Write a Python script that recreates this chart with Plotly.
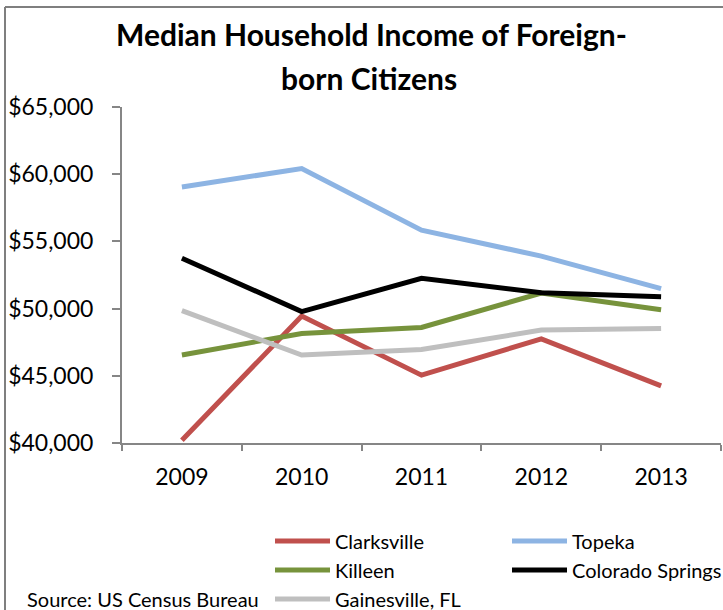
import plotly.graph_objects as go

years = ["2009", "2010", "2011", "2012", "2013"]
clarksville = [40200, 49450, 45050, 47750, 44250]
topeka = [59050, 60420, 55840, 53900, 51480]
killeen = [46550, 48150, 48600, 51150, 49920]
colorado_springs = [53750, 49780, 52250, 51180, 50880]
gainesville = [49850, 46550, 46950, 48400, 48520]
y_ticks = [40000, 45000, 50000, 55000, 60000, 65000]
y_tick_labels = ["$40,000", "$45,000", "$50,000", "$55,000", "$60,000", "$65,000"]

series = [
    ("Clarksville", clarksville, "#C0504D"),
    ("Topeka", topeka, "#8DB4E3"),
    ("Killeen", killeen, "#77933C"),
    ("Colorado Springs", colorado_springs, "#000000"),
    ("Gainesville, FL", gainesville, "#BFBFBF"),
]

FONT = "Lato"
W, H = 723, 610
L, R, T, B = 122, 2, 107, 167
pw, ph = W - L - R, H - T - B

def px(x):
    return (x - L) / pw

def py(y):
    return (H - B - y) / ph

fig = go.Figure()
for name, vals, col in series:
    fig.add_trace(go.Scatter(x=years, y=vals, name=name, mode="lines",
                             line=dict(color=col, width=5)))

border = dict(color="#7F7F7F", width=2)

fig.update_layout(
    width=W, height=H,
    margin=dict(l=L, r=R, t=T, b=B, autoexpand=False),
    paper_bgcolor="white", plot_bgcolor="white",
    font=dict(family=FONT, color="#000000"),
    showlegend=True,
    legend=dict(orientation="h", x=px(270), y=py(521.5), xanchor="left", yanchor="top",
                entrywidth=167, itemwidth=55, font=dict(size=20, family=FONT),
                bgcolor="rgba(0,0,0,0)", traceorder="normal"),
    xaxis=dict(type="category", showgrid=False, showline=True, linecolor="#868686",
               linewidth=2, ticks="outside", tickson="boundaries", ticklen=6,
               tickcolor="#868686", tickwidth=2, tickfont=dict(size=23, family=FONT),
               ticklabelstandoff=12, range=[-0.5, 4.5]),
    yaxis=dict(range=[40000, 65000], tickvals=y_ticks, ticktext=y_tick_labels,
               showgrid=False, showline=True, linecolor="#868686", linewidth=2,
               ticks="outside", ticklen=8, tickcolor="#868686", tickwidth=2,
               tickfont=dict(size=23, family=FONT), ticklabelstandoff=14, zeroline=False),
    shapes=[
        dict(type="line", xref="paper", yref="paper", x0=px(5), x1=px(723), y0=py(7), y1=py(7),
             line=border, layer="above"),
        dict(type="line", xref="paper", yref="paper", x0=px(5), x1=px(5), y0=py(7), y1=py(610),
             line=border, layer="above"),
    ],
    annotations=[
        dict(text="<b>Median Household Income of Foreign-</b>",
             xref="paper", yref="paper", x=px(371), y=py(34), xanchor="center", yanchor="middle",
             showarrow=False, font=dict(size=30, family=FONT)),
        dict(text="<b>born Citizens</b>",
             xref="paper", yref="paper", x=px(369), y=py(78), xanchor="center", yanchor="middle",
             showarrow=False, font=dict(size=30, family=FONT)),
        dict(text="Source: US Census Bureau", xref="paper", yref="paper",
             x=px(25), y=py(598.5), xanchor="left", yanchor="middle", showarrow=False,
             font=dict(size=20, family=FONT)),
    ],
)

fig.write_html("out.html", config={"displayModeBar": False},
               post_script="document.body.style.margin='0';document.body.style.padding='0';")
